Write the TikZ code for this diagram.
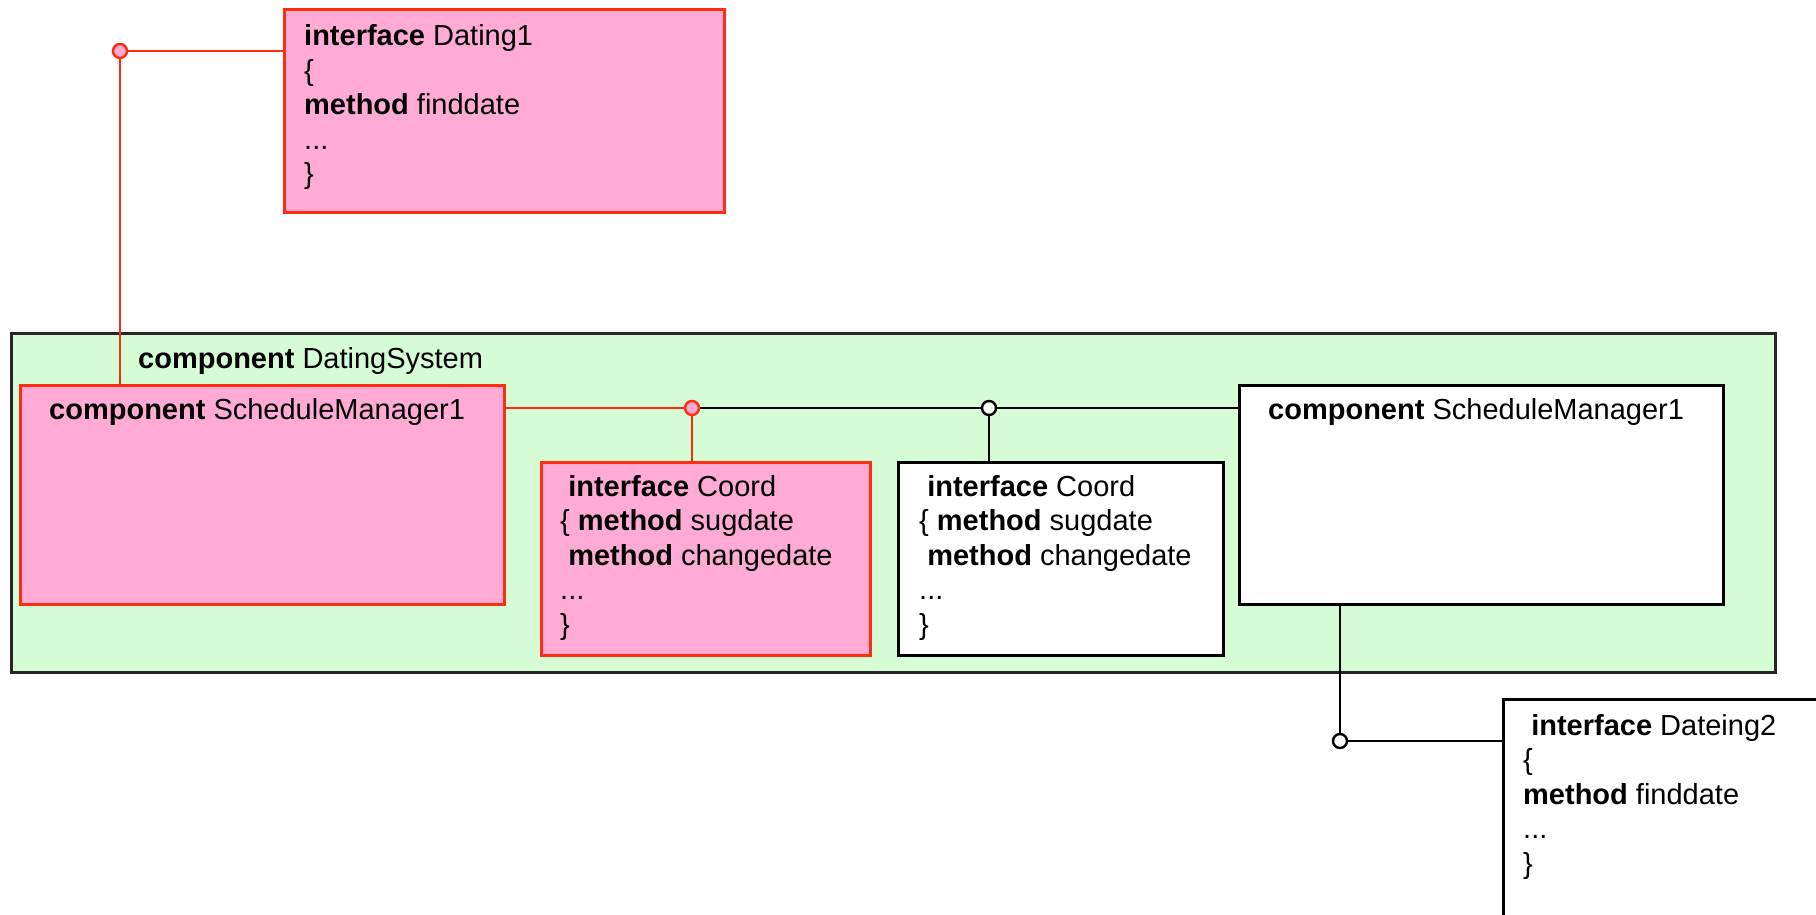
\documentclass[tikz,border=0pt]{standalone}
\usepackage{fontspec}
\setmainfont{Liberation Sans}
\definecolor{pinkfill}{RGB}{255,171,213}
\definecolor{redline}{RGB}{255,45,15}
\definecolor{greenfill}{RGB}{213,252,213}
\begin{document}
\begin{tikzpicture}[x=1pt,y=-1pt,font=\fontsize{29}{34.5}\selectfont,
  pinkbox/.style={draw=redline,fill=pinkfill,line width=3pt,anchor=north west,inner sep=0pt},
  whitebox/.style={draw=black,fill=white,line width=3pt,anchor=north west,inner sep=0pt},
  greenbox/.style={draw=black!85,fill=greenfill,line width=3pt,anchor=north west,inner sep=0pt},
  redwire/.style={draw=redline,line width=2.6pt},
  blackwire/.style={draw=black,line width=2.6pt},
  redsock/.style={circle,draw=redline,fill=pinkfill,line width=2.4pt,minimum size=14pt,inner sep=0pt},
  whitesock/.style={circle,draw=black,fill=white,line width=2.4pt,minimum size=14pt,inner sep=0pt},
  txt/.style={anchor=base west,inner sep=0pt}]
\clip (0,0) rectangle (1816,915);
\fill[white] (0,0) rectangle (1816,915);
% container
\node[greenbox,minimum width=1764pt,minimum height=339pt] (sys) at (10,332) {};
% boxes
\node[pinkbox,minimum width=440pt,minimum height=203pt] (d1) at (283,8) {};
\node[pinkbox,minimum width=484pt,minimum height=219pt] (sm1) at (19,384) {};
\node[pinkbox,minimum width=329pt,minimum height=193pt] (crd1) at (540,461) {};
\node[whitebox,minimum width=325pt,minimum height=193pt] (crd2) at (897,461) {};
\node[whitebox,minimum width=484pt,minimum height=219pt] (sm2) at (1238,384) {};
\node[whitebox,minimum width=340pt,minimum height=250pt] (d2) at (1502,698) {};
% sockets
\node[redsock] (c1) at (120,51) {};
\node[redsock] (c2) at (692,408) {};
\node[whitesock] (c3) at (989,408) {};
\node[whitesock] (c4) at (1340,741) {};
% connectors
\draw[redwire] (c1) -- (c1 -| d1.west);
\draw[redwire] (c1) -- (c1 |- sm1.north);
\draw[redwire] (sm1.east |- c2) -- (c2);
\draw[redwire] (c2) -- (c2 |- crd1.north);
\draw[blackwire] (c2) -- (c3);
\draw[blackwire] (c3) -- (c3 -| sm2.west);
\draw[blackwire] (c3) -- (c3 |- crd2.north);
\draw[blackwire] (c4 |- sm2.south) -- (c4);
\draw[blackwire] (c4) -- (c4 -| d2.west);
% texts
\node[txt] (d1t) at (304,46) {\begin{tabular}[t]{@{}l@{}}\textbf{interface} Dating1\\ \{\\ \textbf{method} finddate\\ ...\\ \}\end{tabular}};
\node[txt] (syst) at (138,368) {\textbf{component} DatingSystem};
\node[txt] (sm1t) at (49,419) {\textbf{component} ScheduleManager1};
\node[txt] (sm2t) at (1268,419) {\textbf{component} ScheduleManager1};
\node[txt] (crd1t) at (560,496) {\begin{tabular}[t]{@{}l@{}}\ \textbf{interface} Coord\\ \{ \textbf{method} sugdate\\ \ \textbf{method} changedate\\ ...\\ \}\end{tabular}};
\node[txt] (crd2t) at (919,496) {\begin{tabular}[t]{@{}l@{}}\ \textbf{interface} Coord\\ \{ \textbf{method} sugdate\\ \ \textbf{method} changedate\\ ...\\ \}\end{tabular}};
\node[txt] (d2t) at (1523,735) {\begin{tabular}[t]{@{}l@{}}\ \textbf{interface} Dateing2\\ \{\\ \textbf{method} finddate\\ ...\\ \}\end{tabular}};
\end{tikzpicture}
\end{document}
